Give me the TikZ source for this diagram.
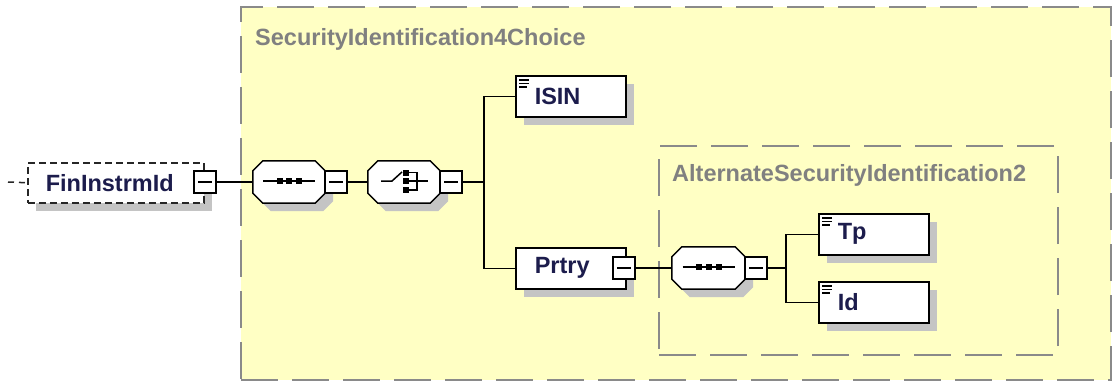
\documentclass[tikz,border=0pt]{standalone}
\usepackage{fontspec}
\setmainfont{Liberation Sans}
\usetikzlibrary{shadows,calc}
\definecolor{bgyellow}{HTML}{FFFFC4}
\definecolor{framegray}{HTML}{8A8A8A}
\definecolor{shadowgray}{HTML}{C4C4C4}
\definecolor{txtnavy}{HTML}{1C1C4C}
\definecolor{lblgray}{HTML}{808080}
\newcommand\octpath[2]{($(#1.north west)+(10,0)+(#2)$) -- ($(#1.north east)+(-10,0)+(#2)$) -- ($(#1.north east)+(0,10)+(#2)$) -- ($(#1.south east)+(0,-10)+(#2)$) -- ($(#1.south east)+(-10,0)+(#2)$) -- ($(#1.south west)+(10,0)+(#2)$) -- ($(#1.south west)+(0,-10)+(#2)$) -- ($(#1.north west)+(0,10)+(#2)$) -- cycle}
\newcommand\drawoct[1]{%
  \fill[shadowgray] \octpath{#1}{8,8};
  \filldraw[fill=white, draw=black, line width=1.5pt] \octpath{#1}{0,0};}
\begin{document}
\begin{tikzpicture}[x=1pt,y=-1pt,
  font=\fontsize{23.5}{28}\selectfont\bfseries,
  groupbox/.style={draw=framegray, line width=2pt, fill=bgyellow, dash pattern=on 37pt off 14pt, anchor=north west, inner sep=0},
  grouplabel/.style={text=lblgray, anchor=base west, inner sep=0},
  shadowed/.style={general shadow={shadow xshift=8pt, shadow yshift=-8pt, fill=shadowgray}},
  elem/.style={draw=black, line width=1.5pt, fill=white, shadowed, minimum height=41pt, text width=72pt, inner xsep=19pt, inner ysep=0pt, align=left, text=txtnavy, anchor=north west},
  octo/.style={rectangle, minimum width=72pt, minimum height=42pt, inner sep=0pt},
  expander/.style={draw=black, line width=1.5pt, fill=white, minimum size=22pt, inner sep=0pt,
    path picture={\draw[line width=1.5pt] ($(path picture bounding box.west)+(4pt,0)$) -- ($(path picture bounding box.east)+(-4pt,0)$);}},
  conn/.style={draw=black, line width=1.5pt},
  marker/.style={line width=1.6pt}
]
\useasboundingbox (0,0) rectangle (1114,381);
\fill[white] (0,0) rectangle (1114,381);

% group boxes
\node[groupbox, minimum width=870pt, minimum height=373pt] (outer) at (240,6) {};
\node[grouplabel] (lblouter) at (255,45) {SecurityIdentification4Choice};
\node[groupbox, minimum width=399pt, minimum height=209pt] (inner) at (658,145) {};
\node[grouplabel] (lblinner) at (672,181) {AlternateSecurityIdentification2};

% root element
\node[draw=black!85, line width=1.5pt, dash pattern=on 7pt off 4pt, fill=white, shadowed, minimum height=40pt, text width=140pt, inner xsep=18pt, inner ysep=0pt, align=left, text=txtnavy, anchor=north west] (fin) at (27,162) {FinInstrmId};
\coordinate (start) at (8,182);
\draw[line width=1.5pt, draw=black!85, dash pattern=on 6pt off 5pt] (start) -- (fin.west);
\node[expander] (finexp) at (205,182) {};

% sequence 1
\node[octo] (seq1) at (289,182) {};
\drawoct{seq1}
\node[expander] (seq1exp) at (336,182) {};
\begin{scope}[shift={(seq1.center)}]
  \draw[line width=1.5pt] (-26,-1) -- (26,-1);
  \fill (-12.5,-4) rectangle (-6.5,2);
  \fill (-3,-4) rectangle (3,2);
  \fill (7,-4) rectangle (13,2);
\end{scope}

% choice
\node[octo] (choice) at (404,182) {};
\drawoct{choice}
\node[expander] (choiceexp) at (451,182) {};
\begin{scope}[shift={(choice.center)}]
  \draw[line width=1.5pt] (-23,-1) -- (-12,-1) -- (-2,-10);
  \fill (-1,-12) rectangle (5,-6.5);
  \fill (-1,-4) rectangle (5,1.5);
  \fill (-1,5) rectangle (5,10.5);
  \draw[line width=1.5pt] (5,-9.5) -- (13,-9.5) -- (13,8) -- (5,8);
  \draw[line width=1.5pt] (5,-1) -- (24,-1);
\end{scope}

% ISIN and Prtry
\node[elem] (isin) at (515,75) {ISIN};
\node[elem] (prtry) at (515,247) {Prtry};
\node[expander] (prtryexp) at (624,268) {};

% sequence 2
\node[octo, minimum width=73pt] (seq2) at (708.5,268) {};
\drawoct{seq2}
\node[expander] (seq2exp) at (756,268) {};
\begin{scope}[shift={(seq2.center)}]
  \draw[line width=1.5pt] (-26,-1) -- (26,-1);
  \fill (-12.5,-4) rectangle (-6.5,2);
  \fill (-3,-4) rectangle (3,2);
  \fill (7,-4) rectangle (13,2);
\end{scope}

% Tp and Id
\node[elem] (tp) at (818,213) {Tp};
\node[elem] (id) at (818,281) {Id};

% element markers
\foreach \n in {isin,tp,id}{
  \begin{scope}[shift={(\n.north west)}]
    \draw[marker] (4,5) -- (14,5);
    \draw[marker] (4,8.5) -- (14,8.5);
    \draw[marker] (4,12) -- (12,12);
  \end{scope}
}

% connectors
\coordinate (t1) at (484,182);
\coordinate (t2) at (786,268);
\draw[conn] (finexp.east) -- (seq1.west);
\draw[conn] (seq1exp.east) -- (choice.west);
\draw[conn] (choiceexp.east) -- (t1);
\draw[conn] (t1) |- (isin.west);
\draw[conn] (t1) |- (prtry.west);
\draw[conn] (prtryexp.east) -- (seq2.west);
\draw[conn] (seq2exp.east) -- (t2);
\draw[conn] (t2) |- (tp.west);
\draw[conn] (t2) |- (id.west);
\end{tikzpicture}
\end{document}
